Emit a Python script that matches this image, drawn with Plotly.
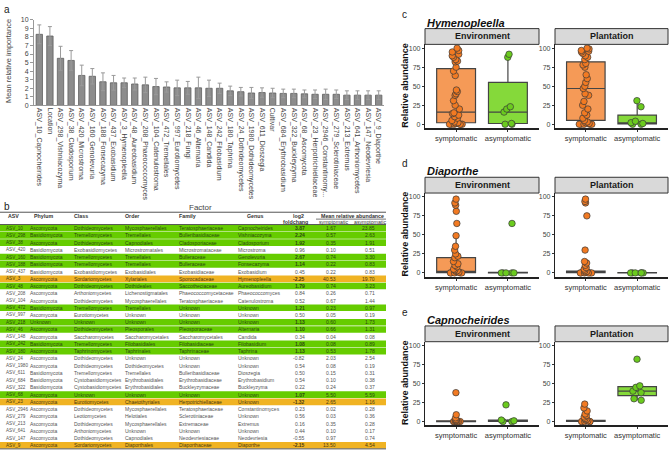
import plotly.graph_objects as go

W, H = 669, 453
def px(x): return x / W
def py(y): return 1 - y / H

FONT = "Liberation Sans"

# ---------------- Panel a data ----------------
factors = ["ASV_10_Capnocheirides", "Location", "ASV_298_Vishniacozyma", "ASV_38_Cladosporium",
           "ASV_420_Microstroma", "ASV_160_Genolevuria", "ASV_188_Fonsecazyma", "ASV_437_Exobasidium",
           "ASV_3_Hymenopleella", "ASV_48_Aureobasidium", "ASV_208_Phaeococcomyces", "ASV_104_Catenulostroma",
           "ASV_472_Tremellales", "ASV_997_Eurotiomycetes", "ASV_218_Fungi", "ASV_46_Alternaria",
           "ASV_148_Candida", "ASV_242_Filobasidium", "ASV_180_Taphrina", "ASV_24_Dothideomycetes",
           "ASV_1980_Dothideomycetes", "ASV_611_Dioszegia", "Cultivar", "ASV_684_Erythrobasidium",
           "ASV_322_Buckleyzyma", "ASV_68_Ascomycota", "ASV_23_Herpotrichiellaceae", "ASV_2946_Constantinomy...",
           "ASV_279_Sclerotiniaceae", "ASV_213_Extremus", "ASV_641_Arthoniomycetes", "ASV_147_Neodevriesia",
           "ASV_9_Diaporthe"]
importance = [8.3, 8.1, 5.5, 5.25, 3.5, 3.4, 2.76, 2.64, 2.64, 2.5, 2.4, 2.2, 2.15, 2.05, 2.05, 2.05,
              2.0, 2.0, 1.7, 1.6, 1.45, 1.5, 1.45, 1.4, 1.4, 1.35, 1.3, 1.3, 1.3, 1.2, 1.2, 1.2, 1.2]
importance_err = [1.1, 1.1, 1.4, 1.15, 1.2, 0.9, 1.04, 0.86, 0.56, 0.7, 0.9, 0.95, 0.6, 0.9, 0.75, 1.25,
                  0.95, 0.6, 0.55, 0.5, 0.65, 0.55, 0.55, 0.5, 0.5, 0.45, 0.5, 0.6, 0.5, 0.5, 0.5, 0.5, 0.5]
importance_ticks = list(range(0, 11))

# ---------------- Panel b data ----------------
tbl_asv = ["ASV_10", "ASV_298", "ASV_38", "ASV_420", "ASV_160", "ASV_188", "ASV_437", "ASV_3", "ASV_48",
           "ASV_208", "ASV_104", "ASV_472", "ASV_997", "ASV_218", "ASV_46", "ASV_148", "ASV_242", "ASV_180",
           "ASV_24", "ASV_1980", "ASV_611", "ASV_684", "ASV_322", "ASV_68", "ASV_23", "ASV_2946", "ASV_279",
           "ASV_213", "ASV_641", "ASV_147", "ASV_9"]
tbl_phylum = ["Ascomycota", "Basidiomycota", "Ascomycota", "Basidiomycota", "Basidiomycota", "Basidiomycota",
              "Basidiomycota", "Ascomycota", "Ascomycota", "Ascomycota", "Ascomycota", "Basidiomycota",
              "Ascomycota", "Unknown", "Ascomycota", "Ascomycota", "Basidiomycota", "Ascomycota", "Ascomycota",
              "Ascomycota", "Basidiomycota", "Basidiomycota", "Basidiomycota", "Ascomycota", "Ascomycota",
              "Ascomycota", "Ascomycota", "Ascomycota", "Ascomycota", "Ascomycota", "Ascomycota"]
tbl_class = ["Dothideomycetes", "Tremellomycetes", "Dothideomycetes", "Exobasidiomycetes", "Tremellomycetes",
             "Tremellomycetes", "Exobasidiomycetes", "Sordariomycetes", "Dothideomycetes", "Arthoniomycetes",
             "Dothideomycetes", "Tremellomycetes", "Eurotiomycetes", "Unknown", "Dothideomycetes",
             "Saccharomycetes", "Tremellomycetes", "Taphrinomycetes", "Dothideomycetes", "Dothideomycetes",
             "Tremellomycetes", "Cystobasidiomycetes", "Cystobasidiomycetes", "Unknown", "Eurotiomycetes",
             "Dothideomycetes", "Leotiomycetes", "Dothideomycetes", "Arthoniomycetes", "Dothideomycetes",
             "Sordariomycetes"]
tbl_order = ["Mycosphaerellales", "Tremellales", "Capnodiales", "Microstromatales", "Tremellales", "Tremellales",
             "Exobasidiales", "Xylariales", "Dothideales", "Lichenostigmatales", "Mycosphaerellales",
             "Tremellales", "Unknown", "Unknown", "Pleosporales", "Saccharomycetales", "Filobasidiales",
             "Taphrinales", "Unknown", "Dothideomycetes", "Tremellales", "Erythrobasidiales",
             "Erythrobasidiales", "Unknown", "Chaetothyriales", "Mycosphaerellales", "Helotiales",
             "Mycosphaerellales", "Unknown", "Capnodiales", "Diaporthales"]
tbl_family = ["Teratosphaeriaceae", "Bulleribasidiaceae", "Cladosporiaceae", "Microstromataceae", "Bulleraceae",
              "Bulleraceae", "Exobasidiaceae", "Sporocadaceae", "Saccotheciaceae", "Phaeococcomycetaceae",
              "Teratosphaeriaceae", "Unknown", "Unknown", "Unknown", "Pleosporaceae", "Saccharomycetales",
              "Filobasidiaceae", "Taphrinaceae", "Unknown", "Unknown", "Bulleribasidiaceae",
              "Erythrobasidiaceae", "Buckleyzymaceae", "Unknown", "Herpotrichiellaceae", "Teratosphaeriaceae",
              "Sclerotiniaceae", "Extremaceae", "Unknown", "Neodevriesiaceae", "Diaporthaceae"]
tbl_genus = ["Capnocheirides", "Vishniacozyma", "Cladosporium", "Microstroma", "Genolevuria", "Fonsecazyma",
             "Exobasidium", "Hymenopleella", "Aureobasidium", "Phaeococcomyces", "Catenulostroma", "Unknown",
             "Unknown", "Unknown", "Alternaria", "Candida", "Filobasidium", "Taphrina", "Unknown", "Unknown",
             "Dioszegia", "Erythrobasidium", "Buckleyzyma", "Unknown", "Unknown", "Constantinomyces", "Unknown",
             "Extremus", "Unknown", "Neodevriesia", "Diaporthe"]
tbl_log2fc = [3.87, 2.24, 1.92, 0.96, 2.67, 1.14, 0.45, -2.25, 1.79, 0.84, 0.52, 1.21, 0.50, 1.13, 1.10, 0.34,
              1.08, 1.13, -0.82, 0.54, 0.50, 0.54, 0.22, 1.07, -1.32, 0.23, 0.56, 0.16, 0.44, -0.55, -2.15]
tbl_mean_sym = [1.67, 0.57, 0.35, 0.10, 0.74, 0.22, 0.22, 40.53, 0.74, 0.26, 0.67, 0.23, 0.05, 0.60, 0.66, 0.04,
                0.08, 0.53, 2.03, 0.08, 0.15, 0.10, 0.24, 5.50, 2.65, 0.02, 0.03, 0.35, 0.10, 0.97, 13.50]
tbl_mean_asym = [23.85, 2.63, 1.91, 0.51, 3.30, 0.83, 0.83, 19.70, 3.23, 0.71, 1.44, 0.97, 0.19, 1.73, 1.31,
                 0.08, 0.89, 1.78, 2.54, 0.19, 0.31, 0.38, 0.37, 5.59, 1.16, 0.28, 0.36, 0.28, 0.17, 0.74, 4.54]
tbl_status = ["up", "up", "up", "ns", "up", "up", "ns", "down", "up", "ns", "ns", "up", "ns", "up", "up", "ns",
              "up", "up", "ns", "ns", "ns", "ns", "ns", "up", "down", "ns", "ns", "ns", "ns", "ns", "down"]

# ---------------- Panels c-e data ----------------
groups = ["symptomatic", "asymptomatic"]
# Hymenopleella
hym_env_sym = [100, 97, 95, 92, 90, 88, 85, 83, 82, 75, 70, 64, 45, 43, 40, 38, 31, 25, 20, 15, 14, 12, 10, 8,
               5, 3, 2, 1, 0, 0, 0, 0, 0, 0]
hym_env_asym = [92, 88, 23, 20, 16, 1, 0, 0]
hym_pla_sym = [100, 99, 97, 96, 95, 93, 90, 88, 85, 80, 78, 75, 65, 60, 55, 50, 47, 40, 38, 30, 25, 20, 15, 12,
               8, 5, 3, 2, 1, 0, 0, 0, 0, 0]
hym_pla_asym = [31, 23, 4, 2, 1, 0, 0]
# Diaporthe
dia_env_sym = [97, 92, 89, 81, 65, 49, 35, 30, 25, 22, 20, 15, 12, 10, 8, 5, 4, 3, 2, 1, 0, 0, 0, 0, 0]
dia_env_asym = [65, 0, 0, 0, 0, 0]
dia_pla_sym = [97, 94, 92, 75, 30, 15, 13, 10, 7, 5, 3, 2, 1, 0, 0, 0, 0, 0, 0]
dia_pla_asym = [0, 0, 0, 0, 0, 0]
# Capnocheirides
cap_env_sym = [38, 9, 5, 3, 2, 1, 0, 0, 0, 0, 0, 0]
cap_env_asym = [22, 2, 1, 0, 0]
cap_pla_sym = [23, 18, 14, 10, 8, 6, 4, 3, 2, 1, 0, 0, 0, 0, 0]
cap_pla_asym = [82, 47, 45, 40, 38, 30, 28]

# box statistics [lowerfence, q1, median, q3, upperfence]
hym_env_sym_box = [0, 2, 16, 73, 100]
hym_env_asym_box = [0, 1, 16, 55, 92]
hym_pla_sym_box = [0, 5, 47, 82, 100]
hym_pla_asym_box = [0, 0.5, 1, 12, 31]
dia_env_sym_box = [0, 0.5, 2, 20, 49]
dia_env_asym_box = [0, 0, 0, 0.6, 0.6]
dia_pla_sym_box = [0, 0.3, 1, 2.5, 6]
dia_pla_asym_box = [0, 0, 0, 0.4, 0.4]
cap_env_sym_box = [0, 0, 0.3, 1, 2]
cap_env_asym_box = [0, 0.3, 1, 2, 3]
cap_pla_sym_box = [0, 0.2, 0.5, 1.5, 3]
cap_pla_asym_box = [28, 34, 40, 46, 48]

abund_ticks = [0, 25, 50, 75, 100]

ORANGE_FILL = "#F59A57"
ORANGE_PT = "#F27A22"
GREEN_FILL = "#85D93A"
GREEN_PT = "#6BCB1E"
ROW_GREEN = "#66CC00"
ROW_ORANGE = "#F0B323"

fig = go.Figure()
annotations = []
shapes = []

def txt(x, y, s, size=6, color="#333", xanchor="left", yanchor="middle", bold=False, italic=False, angle=0):
    if italic:
        s = "<i>" + s + "</i>"
    if bold:
        s = "<b>" + s + "</b>"
    annotations.append(dict(x=px(x), y=py(y), xref="paper", yref="paper", text=s, showarrow=False,
                            xanchor=xanchor, yanchor=yanchor, textangle=angle,
                            font=dict(family=FONT, size=size, color=color)))

# ---------------- Panel a ----------------
fig.add_trace(go.Bar(
    x=factors, y=importance,
    error_y=dict(type="data", array=importance_err, color="#9a9a9a", thickness=1, width=2),
    marker=dict(color="#8c8c8c", line=dict(color="#5e5e5e", width=0.8)),
    width=0.6, xaxis="x", yaxis="y", hoverinfo="skip", showlegend=False))

axis_font = dict(family=FONT, size=7, color="#444")
layout_axes = dict(
    xaxis=dict(domain=[px(34), px(384)], anchor="y", tickangle=90, tickfont=dict(family=FONT, size=7, color="#444"),
               showline=True, linecolor="#999", linewidth=1, ticks="", showgrid=False, zeroline=False,
               categoryorder="array", categoryarray=factors),
    yaxis=dict(domain=[py(103), py(16)], anchor="x", range=[0, 10], tickvals=importance_ticks,
               tickfont=axis_font, showline=True, linecolor="#999", linewidth=1, ticks="outside",
               ticklen=3, tickcolor="#999", showgrid=False, zeroline=False),
)
txt(2, 6, "a", size=10, color="#222")
txt(8, 58, "Mean relative importance", size=7.5, color="#444", xanchor="center", angle=-90)
txt(200, 207, "Factor", size=8, color="#444", xanchor="center")

# ---------------- Panel b (table) ----------------
txt(2, 206, "b", size=10, color="#222")
row_h = 7.35
row0 = 224
tbl_right = 386
cols_x = [4, 28, 72, 123, 177, 236]
col_size = [4.6, 5.0, 5.0, 5.0, 5.0, 5.0]
shapes.append(dict(type="line", xref="paper", yref="paper", x0=px(0), x1=px(tbl_right), y0=py(211.5), y1=py(211.5),
                   line=dict(color="#555", width=1)))
shapes.append(dict(type="line", xref="paper", yref="paper", x0=px(0), x1=px(tbl_right), y0=py(224), y1=py(224),
                   line=dict(color="#555", width=1)))
shapes.append(dict(type="line", xref="paper", yref="paper", x0=px(316), x1=px(tbl_right), y0=py(218.5), y1=py(218.5),
                   line=dict(color="#555", width=0.8)))
hdr = ["ASV", "Phylum", "Class", "Order", "Family", "Genus"]
hdr_x = [6, 32, 72, 123, 177, 245]
for h, x in zip(hdr, hdr_x):
    txt(x, 215, h, size=5.3, color="#333", bold=True)
txt(306, 215, "log2", size=5.3, color="#333", xanchor="right", bold=True)
txt(310, 221, "foldchang", size=5.3, color="#333", xanchor="right", bold=True)
txt(352, 215, "Mean relative abundance", size=5.3, color="#333", xanchor="center", bold=True)
txt(334, 221.5, "symptomatic", size=5.2, color="#333", xanchor="center")
txt(370, 221.5, "asymptomatic", size=5.2, color="#333", xanchor="center")

for i in range(len(tbl_asv)):
    y0 = row0 + i * row_h
    yc = y0 + row_h / 2
    st = tbl_status[i]
    if st != "ns":
        shapes.append(dict(type="rect", xref="paper", yref="paper", x0=px(0), x1=px(tbl_right),
                           y0=py(y0 + row_h - 0.3), y1=py(y0 + 0.3),
                           fillcolor=ROW_GREEN if st == "up" else ROW_ORANGE, line=dict(width=0), layer="below"))
    col = "#2a4a10" if st == "up" else ("#4a3a10" if st == "down" else "#555")
    vals = [tbl_asv[i], tbl_phylum[i], tbl_class[i], tbl_order[i], tbl_family[i], tbl_genus[i]]
    for v, x, fs in zip(vals, cols_x, col_size):
        txt(x, yc, v, size=fs, color=col)
    txt(307, yc, f"{tbl_log2fc[i]:.2f}", size=5.0, color=col, xanchor="right", bold=(st != "ns"))
    txt(338, yc, f"{tbl_mean_sym[i]:.2f}", size=5.0, color=col, xanchor="right")
    txt(377, yc, f"{tbl_mean_asym[i]:.2f}", size=5.0, color=col, xanchor="right")
shapes.append(dict(type="line", xref="paper", yref="paper", x0=px(0), x1=px(tbl_right),
                   y0=py(row0 + len(tbl_asv) * row_h), y1=py(row0 + len(tbl_asv) * row_h),
                   line=dict(color="#555", width=1)))

# ---------------- Panels c-e ----------------
panels = [
    ("c", "Hymenopleella", 41, [(hym_env_sym, hym_env_asym, hym_env_sym_box, hym_env_asym_box),
                                (hym_pla_sym, hym_pla_asym, hym_pla_sym_box, hym_pla_asym_box)]),
    ("d", "Diaporthe", 192, [(dia_env_sym, dia_env_asym, dia_env_sym_box, dia_env_asym_box),
                             (dia_pla_sym, dia_pla_asym, dia_pla_sym_box, dia_pla_asym_box)]),
    ("e", "Capnocheirides", 343, [(cap_env_sym, cap_env_asym, cap_env_sym_box, cap_env_asym_box),
                                  (cap_pla_sym, cap_pla_asym, cap_pla_sym_box, cap_pla_asym_box)]),
]
facet_x = [(425, 539), (555, 668)]
facet_names = ["Environment", "Plantation"]
ax_i = 2
for letter, title, top, facets in panels:
    bottom = top + 85
    txt(400, top - 30, letter, size=10, color="#222")
    txt(425, top - 22, title, size=11, color="#111", bold=True, italic=True)
    txt(405, top + 42, "Relative abundance", size=9, color="#111", xanchor="center", bold=True, angle=-90)
    for fi, (sym, asym, sbox, abox) in enumerate(facets):
        xa, ya = f"x{ax_i}", f"y{ax_i}"
        x0, x1 = facet_x[fi]
        # strip
        shapes.append(dict(type="rect", xref="paper", yref="paper", x0=px(x0), x1=px(x1),
                           y0=py(top), y1=py(top - 16), fillcolor="#D9D9D9", line=dict(color="#333", width=1)))
        txt((x0 + x1) / 2, top - 8, facet_names[fi], size=9, color="#1a1a1a", xanchor="center", bold=True)
        for gi, (vals, box, fill, pt) in enumerate([(sym, sbox, ORANGE_FILL, ORANGE_PT),
                                                    (asym, abox, GREEN_FILL, GREEN_PT)]):
            pos = gi + 1
            fig.add_trace(go.Box(x=[pos], lowerfence=[box[0]], q1=[box[1]], median=[box[2]], q3=[box[3]],
                                 upperfence=[box[4]], width=0.75, fillcolor=fill,
                                 line=dict(color="#444", width=1.2), boxpoints=False, whiskerwidth=0,
                                 xaxis=xa, yaxis=ya, showlegend=False, hoverinfo="skip"))
            fig.add_trace(go.Box(x=[pos] * len(vals), y=vals, width=0.75, boxpoints="all", jitter=0.4,
                                 pointpos=0, fillcolor="rgba(0,0,0,0)", line=dict(width=0, color="rgba(0,0,0,0)"),
                                 marker=dict(color=pt, size=6.5, line=dict(color="#3a3a3a", width=0.7)),
                                 xaxis=xa, yaxis=ya, showlegend=False, hoverinfo="skip"))
        layout_axes[f"xaxis{ax_i}"] = dict(domain=[px(x0), px(x1)], anchor=ya, range=[0.4, 2.6],
                                           tickvals=[1, 2], ticktext=groups,
                                           tickfont=dict(family=FONT, size=7.5, color="#333"),
                                           showline=True, linecolor="#222", linewidth=2, ticks="outside",
                                           ticklen=2, tickcolor="#333", showgrid=False, zeroline=False)
        layout_axes[f"yaxis{ax_i}"] = dict(domain=[py(bottom), py(top)], anchor=xa, range=[-5, 105],
                                           tickvals=abund_ticks, tickfont=dict(family=FONT, size=7, color="#444"),
                                           showline=True, linecolor="#222", linewidth=1.2, ticks="outside",
                                           ticklen=2, tickcolor="#333", showgrid=False, zeroline=False)
        ax_i += 1

fig.update_layout(
    width=W, height=H, margin=dict(l=0, r=0, t=0, b=0),
    paper_bgcolor="white", plot_bgcolor="white", boxmode="overlay", showlegend=False,
    annotations=annotations, shapes=shapes, **layout_axes)

fig.write_html("out.html")
